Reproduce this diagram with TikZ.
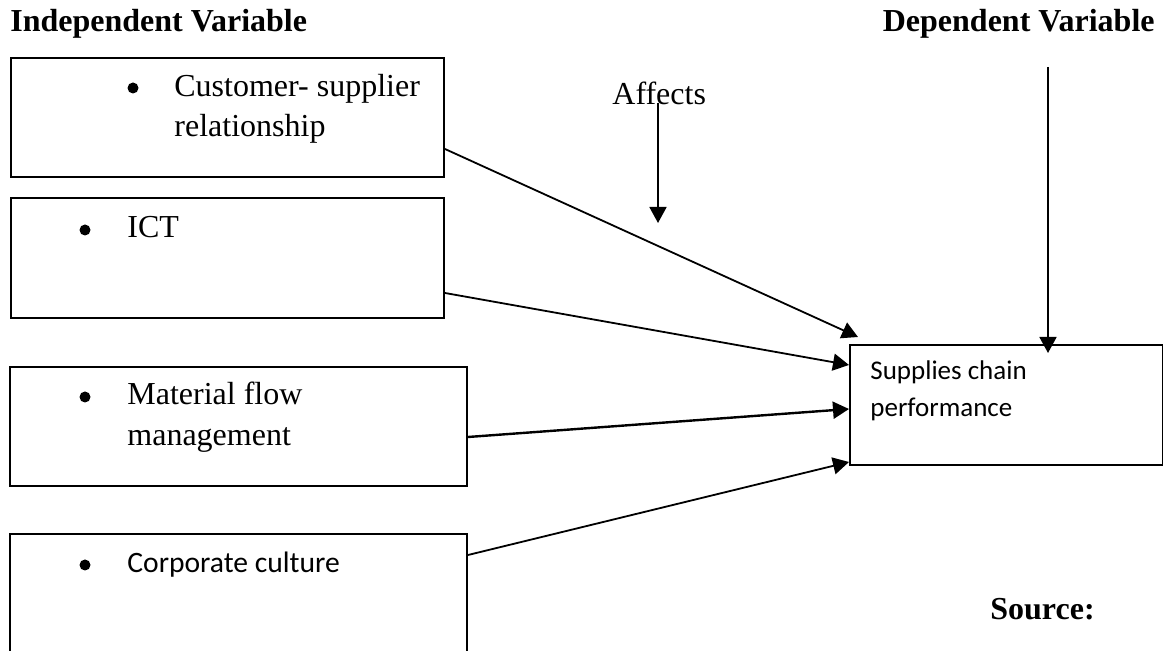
\documentclass[tikz,border=0pt]{standalone}
\usepackage{fontspec}
\setmainfont{Liberation Serif}
\newfontfamily\sansf{Carlito}
\usetikzlibrary{arrows.meta,calc}
\begin{document}
\begin{tikzpicture}[x=0.5pt,y=-0.5pt,
  box/.style={draw, line width=1pt, rectangle, inner sep=0, anchor=north west},
  txt/.style={inner sep=0, anchor=base west, font=\fontsize{16}{19}\selectfont},
  stxt/.style={inner sep=0, anchor=base west, font=\sansf\fontsize{14.8}{18}\selectfont},
  ptxt/.style={inner sep=0, anchor=base west, font=\sansf\fontsize{13.5}{16}\selectfont},
  ttl/.style={inner sep=0, font=\bfseries\fontsize{16}{19}\selectfont},
  dot/.style={circle, fill=black, inner sep=0, minimum size=5.5pt},
  conn/.style={line width=0.9pt, -{Triangle[length=8pt,width=8.5pt]}}]
\useasboundingbox (0,0) rectangle (1163,651);
\clip (0,0) rectangle (1163,651);
% titles
\node[ttl, anchor=base west] (ind) at (10,32) {Independent Variable};
\node[ttl, anchor=base east] (dep) at (1155,32) {Dependent Variable};
\node[ttl, anchor=base west] (src) at (990,620) {Source:};
% boxes
\node[box, minimum width=216.5pt, minimum height=59.5pt] (b1) at (10,57) {};
\node[box, minimum width=216.5pt, minimum height=60pt] (b2) at (10,197) {};
\node[box, minimum width=228.5pt, minimum height=59.5pt] (b3) at (9,366) {};
\node[box, minimum width=228.5pt, minimum height=66pt] (b4) at (9,533) {};
\node[box, minimum width=156.5pt, minimum height=60pt] (t) at (849,344) {};
% bullets and texts
\node[dot] (d1) at (133,88) {};
\node[txt] (t1a) at (174,97) {Customer- supplier};
\node[txt] (t1b) at (174,137) {relationship};
\node[dot] (d2) at (85,230) {};
\node[txt] (t2) at (127,238) {ICT};
\node[dot] (d3) at (85,397) {};
\node[txt] (t3a) at (127,405) {Material flow};
\node[txt] (t3b) at (127,446) {management};
\node[dot] (d4) at (85,565) {};
\node[stxt] (t4) at (127,573) {Corporate culture};
\node[ptxt] (tta) at (870,380) {Supplies chain};
\node[ptxt] (ttb) at (870,417) {performance};
\node[txt] (aff) at (612,105) {Affects};
% connectors
\draw[conn] ($(b1.north east)+(0,92)$) -- ($(t.north west)+(9,-7)$);
\draw[conn] ($(b2.north east)+(0,96)$) -- ($(t.north west)+(0,21)$);
\draw[conn, line width=1.2pt] ($(b3.north east)+(0,71)$) -- ($(t.north west)+(0,65)$);
\draw[conn] ($(b4.north east)+(0,22)$) -- ($(t.north west)+(0,118)$);
\coordinate (affend) at (658,223);
\draw[conn] ($(aff.base west)+(46,-2)$) -- (affend);
\coordinate (depstart) at (1048,67);
\draw[conn] (depstart) -- ($(t.north west)+(199,9)$);
\end{tikzpicture}
\end{document}
